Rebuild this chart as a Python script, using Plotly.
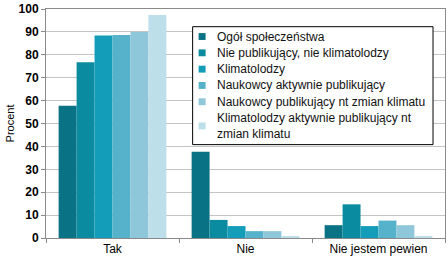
import plotly.graph_objects as go

categories = ["Tak", "Nie", "Nie jestem pewien"]
series_names = [
    "Ogół społeczeństwa",
    "Nie publikujący, nie klimatolodzy",
    "Klimatolodzy",
    "Naukowcy aktywnie publikujący",
    "Naukowcy publikujący nt zmian klimatu",
    "Klimatolodzy aktywnie publikujący nt<br>zmian klimatu",
]
ogol = [57.8, 37.7, 5.6]
nie_publ = [76.8, 7.9, 14.7]
klimat = [88.4, 5.2, 5.2]
nauk_akt = [88.6, 3.0, 7.6]
nauk_klim = [90.0, 3.0, 5.6]
klimat_akt = [97.4, 0.7, 0.7]
series_values = [ogol, nie_publ, klimat, nauk_akt, nauk_klim, klimat_akt]
colors = ["#0a7285", "#0a8ba0", "#139db8", "#56b2ca", "#8fc7da", "#bcdfe9"]
y_ticks = list(range(0, 101, 10))

W, H = 448, 261
L, R, T, B = 46, 2, 5, 23
PW, PH = W - L - R, H - T - B


def px_x(px):
    return (px - L) / PW


def px_y(py):
    return (H - B - py) / PH


fig = go.Figure()
for name, vals, c in zip(series_names, series_values, colors):
    fig.add_trace(go.Bar(x=categories, y=vals, name=name,
                         marker=dict(color=c, line=dict(width=0))))

# custom legend box
shapes = [dict(type="rect", xref="paper", yref="paper",
               x0=px_x(193), x1=px_x(434), y0=px_y(143), y1=px_y(23),
               line=dict(color="black", width=1), fillcolor="white", layer="above")]
annotations = []
for i, (name, c) in enumerate(zip(series_names, colors)):
    cy = 33 + i * 16.6
    if "<br>" in name:
        cy += 8
    shapes.append(dict(type="rect", xref="paper", yref="paper",
                       x0=px_x(199), x1=px_x(206), y0=px_y(cy + 3.5), y1=px_y(cy - 3.5),
                       line=dict(width=0), fillcolor=c, layer="above"))
    annotations.append(dict(xref="paper", yref="paper", x=px_x(215), y=px_y(cy),
                            xanchor="left", yanchor="middle", text=name, showarrow=False,
                            align="left", font=dict(size=12, family="Liberation Sans, Arial", color="#111")))

fig.update_layout(
    width=W, height=H,
    margin=dict(l=L, r=R, t=T, b=B),
    paper_bgcolor="white", plot_bgcolor="white",
    barmode="group", bargap=0.19, bargroupgap=0,
    font=dict(family="Liberation Sans, Arial", size=11, color="#000"),
    showlegend=False,
    shapes=shapes, annotations=annotations,
    xaxis=dict(
        showline=True, linecolor="#8a8a8a", linewidth=1, mirror=True,
        ticks="outside", ticklen=4, tickcolor="#8a8a8a",
        tickson="boundaries", showgrid=False,
        tickfont=dict(size=12),
    ),
    yaxis=dict(
        range=[0, 100], tickvals=y_ticks,
        showline=True, linecolor="#8a8a8a", linewidth=1, mirror=True,
        ticks="outside", ticklen=4, tickcolor="#8a8a8a",
        showgrid=True, gridcolor="#c4c4c4", gridwidth=1,
        tickfont=dict(size=12, family="Liberation Sans, Arial", weight="bold"),
        ticklabeloverflow="allow",
        title=dict(text="Procent", font=dict(size=11), standoff=1),
        zeroline=False,
    ),
)
fig.write_html("out.html")
